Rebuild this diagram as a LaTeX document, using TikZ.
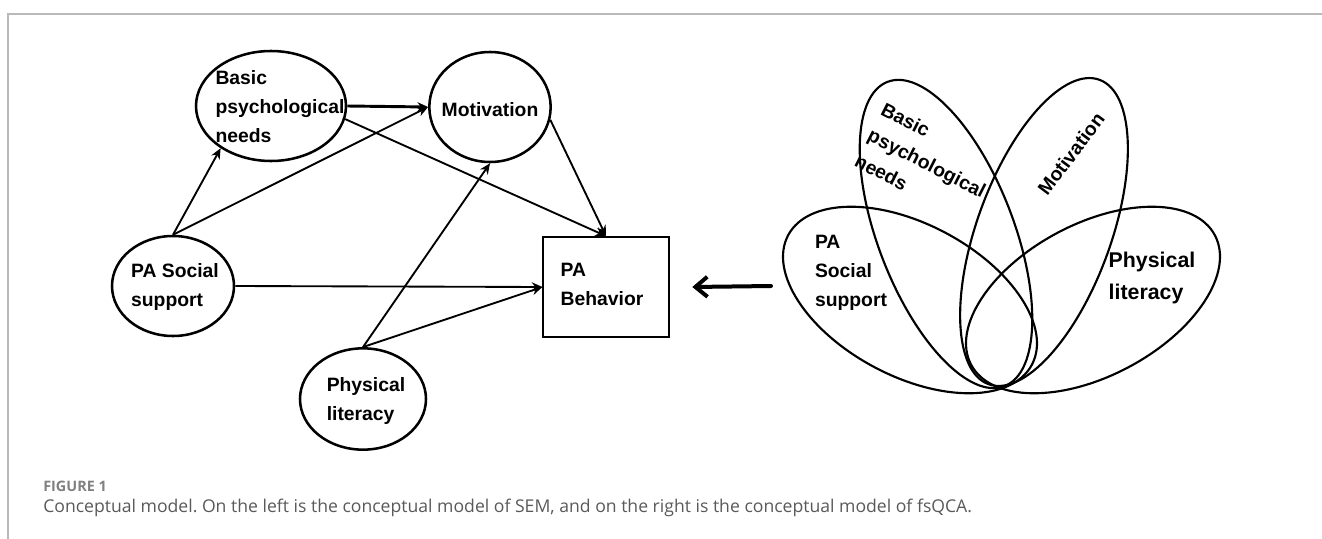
\documentclass[tikz,border=0pt]{standalone}
\usepackage{fontspec}
\setmainfont{Liberation Sans}
\newfontfamily\capfont{Open Sans}
\usetikzlibrary{arrows.meta,shapes.geometric}
\frenchspacing

\begin{document}
\begin{tikzpicture}[x=0.75pt,y=-0.75pt,inner sep=0pt,
  latent/.style={draw,ellipse,line width=1.9pt},
  observed/.style={draw,rectangle,line width=1.4pt,minimum width=94pt,minimum height=75pt},
  txt/.style={font=\bfseries\fontsize{14.5}{21.75}\selectfont,align=left},
  effect/.style={-{Stealth[length=8pt,width=7pt]},line width=1.4pt},
  venn/.style={line width=1.6pt}]
\useasboundingbox (0,0) rectangle (1322,539);
% frame
\draw[gray!55,line width=1pt] (1322,14) -- (8,14) -- (8,539);

% SEM model
\draw (271,106) node[latent,minimum width=112.5pt,minimum height=82.5pt](basic) {};
\node[txt] (basictxt) at (280,107) {Basic\\psychological\\needs};
\draw (490,107) node[latent,minimum width=91pt,minimum height=82.5pt](motiv) {};
\node[txt] (motivtxt) at (490,110) {Motivation};
\draw (173,286) node[latent,minimum width=91.5pt,minimum height=75pt](social) {};
\node[txt] (socialtxt) at (175,287) {PA Social\\support};
\draw (363,399) node[latent,minimum width=94.5pt,minimum height=76pt](phys) {};
\node[txt] (phystxt) at (366,401) {Physical\\literacy};
\draw (606,287) node[observed](behav) {};
\node[txt] (behavtxt) at (602,284) {PA\\Behavior};

\draw[effect,line width=2.2pt] (basic.east) -- (motiv.west);
\draw[effect] (basic.-10) -- (behav.north);
\draw[effect] (motiv.-12) -- (behav.north);
\draw[effect] (social.north) -- (basic.-140);
\draw[effect] (social.north) -- (motiv.west);
\draw[effect] (social.east) -- (behav.west);
\draw[effect] (phys.north) -- (motiv.south);
\draw[effect] (phys.north) -- (behav.west);

% fsQCA model
\draw[venn,rotate around={-28:(910,300)}] (910,300) ellipse (138 and 76);
\draw[venn,rotate around={28:(1093,300)}] (1093,300) ellipse (138 and 76);
\draw[venn,rotate around={-69:(946,234)}] (946,234) ellipse (163 and 68);
\draw[venn,rotate around={70:(1044,232)}] (1044,232) ellipse (162 and 67);
\node[txt] (vsocial) at (851,273) {PA\\Social\\support};
\node[txt,font=\bfseries\fontsize{16}{24}\selectfont] (vphys) at (1152,278) {Physical\\literacy};
\node[txt,rotate=-27] (vbasic) at (927,163) {Basic\\psychological\\needs};
\node[txt,rotate=53] (vmotiv) at (1071,154) {Motivation};

\coordinate (venn) at (771,286);
\draw[-{Straight Barb[length=9pt,width=15pt]},line width=3pt,line cap=round] (venn) -- ([xshift=17pt]behav.east);

% caption
\node[anchor=west,font=\capfont\bfseries\fontsize{10.8}{13}\selectfont,text=black!50] (fig) at (43,486) {FIGURE 1};
\node[anchor=west,font=\capfont\fontsize{13.2}{15}\selectfont,text=black!65] (cap) at (43,508) {Conceptual model. On the left is the conceptual model of SEM, and on the right is the conceptual model of fsQCA.};
\end{tikzpicture}
\end{document}
